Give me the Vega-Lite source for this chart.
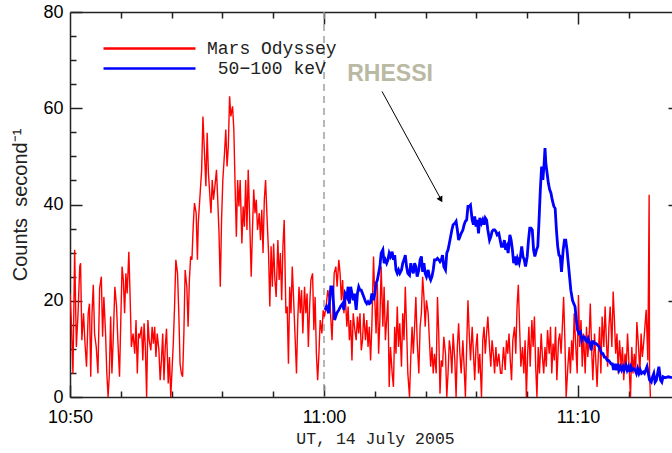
{
  "$schema": "https://vega.github.io/schema/vega-lite/v6.json",
  "width": 602,
  "height": 385,
  "autosize": {"type": "none"},
  "padding": {"left": 70, "top": 12, "right": 0, "bottom": 56},
  "background": "white",
  "config": {
    "view": {"stroke": null},
    "axis": {"labelFont": "Liberation Sans", "labelFontSize": 18, "labelColor": "#000000", "domainColor": "#222222", "domainWidth": 1.5, "tickColor": "#222222", "tickWidth": 1.5, "grid": false},
    "legend": {"orient": "none", "legendX": 69, "legendY": 26, "symbolType": "M-5.11,0H5.11", "symbolSize": 324, "symbolStrokeWidth": 2.5, "symbolFillColor": "transparent", "labelFont": "Liberation Mono", "labelFontSize": 18, "labelColor": "#222222", "labelOffset": 47, "rowPadding": -1, "padding": 0}
  },
  "datasets": {
    "odyssey": [
      {"s":0,"v":21.5},{"s":3,"v":16},{"s":7,"v":4.9},{"s":11,"v":30.6},{"s":15,"v":10.4},{"s":19,"v":17.4},{"s":23,"v":27.1},{"s":25,"v":27.8},{"s":28,"v":11.8},{"s":32,"v":17.4},{"s":35,"v":11.8},{"s":39,"v":6.3},{"s":43,"v":17.4},{"s":46,"v":19.4},{"s":49,"v":4.2},{"s":52,"v":17.4},{"s":55,"v":23.3},{"s":58,"v":13.2},{"s":62,"v":10.4},{"s":66,"v":4.9},{"s":70,"v":22.6},{"s":74,"v":25},{"s":77,"v":12.5},{"s":80,"v":20.8},{"s":84,"v":13.2},{"s":87,"v":4.9},{"s":90,"v":0},{"s":93,"v":4.9},{"s":96,"v":16.7},{"s":99,"v":4.9},{"s":102,"v":11.8},{"s":106,"v":22.9},{"s":110,"v":18.8},{"s":113,"v":11.8},{"s":117,"v":4.2},{"s":120,"v":16},{"s":123,"v":27.1},{"s":126,"v":24.3},{"s":129,"v":17.4},{"s":132,"v":25.7},{"s":135,"v":21.5},{"s":139,"v":30.2},{"s":142,"v":20.8},{"s":145,"v":10.4},{"s":149,"v":13.2},{"s":153,"v":9},{"s":156,"v":16},{"s":159,"v":4.9},{"s":162,"v":13.2},{"s":165,"v":12.5},{"s":169,"v":14.6},{"s":172,"v":7.6},{"s":175,"v":15.3},{"s":178,"v":10.4},{"s":181,"v":0},{"s":184,"v":16},{"s":187,"v":11.8},{"s":191,"v":9.7},{"s":194,"v":14.6},{"s":197,"v":11.1},{"s":200,"v":14.6},{"s":203,"v":8.3},{"s":206,"v":13.2},{"s":210,"v":9.7},{"s":213,"v":3.5},{"s":216,"v":7.6},{"s":219,"v":13.2},{"s":222,"v":3.5},{"s":225,"v":10.4},{"s":228,"v":14.2},{"s":232,"v":2.8},{"s":235,"v":8.3},{"s":238,"v":0},{"s":241,"v":5.6},{"s":244,"v":11.1},{"s":247,"v":18.8},{"s":250,"v":28.5},{"s":254,"v":25.7},{"s":257,"v":17.4},{"s":260,"v":6.9},{"s":263,"v":4.9},{"s":266,"v":4.2},{"s":269,"v":13.2},{"s":272,"v":26.4},{"s":276,"v":22.9},{"s":279,"v":14.6},{"s":282,"v":24.3},{"s":285,"v":29.2},{"s":288,"v":28.5},{"s":291,"v":35.4},{"s":294,"v":40.3},{"s":298,"v":38.2},{"s":301,"v":28.5},
      {"s":303,"v":36.1},{"s":307,"v":41.7},{"s":311,"v":47.2},{"s":314,"v":58.3},{"s":317,"v":52.1},{"s":321,"v":43.8},{"s":324,"v":54.9},{"s":327,"v":46.5},{"s":330,"v":42.4},{"s":333,"v":38.2},{"s":336,"v":45.1},{"s":339,"v":41},{"s":343,"v":44.4},{"s":346,"v":47.2},{"s":349,"v":41},{"s":352,"v":34},{"s":355,"v":22.9},{"s":358,"v":36.8},{"s":361,"v":45.1},{"s":365,"v":50.7},{"s":368,"v":55.6},{"s":371,"v":47.9},{"s":374,"v":52.1},{"s":377,"v":62.5},{"s":380,"v":58.3},{"s":384,"v":60.4},{"s":387,"v":55.6},{"s":390,"v":43.8},{"s":393,"v":33.3},{"s":396,"v":45.1},{"s":399,"v":39.6},{"s":402,"v":45.1},{"s":406,"v":31.9},{"s":409,"v":39.6},{"s":412,"v":35.4},{"s":415,"v":45.1},{"s":418,"v":34.7},{"s":421,"v":47.2},{"s":424,"v":38.2},{"s":428,"v":25},{"s":431,"v":34.7},{"s":434,"v":43.1},{"s":437,"v":38.2},{"s":440,"v":41},{"s":443,"v":34.7},{"s":447,"v":38.2},{"s":450,"v":32.6},{"s":453,"v":38.9},{"s":456,"v":29.9},{"s":459,"v":41},{"s":462,"v":45.1},{"s":465,"v":38.2},{"s":469,"v":29.9},{"s":472,"v":18.8},{"s":475,"v":31.3},{"s":478,"v":22.9},{"s":481,"v":31.9},{"s":484,"v":24.3},{"s":487,"v":20.8},{"s":491,"v":32.6},{"s":494,"v":24.3},{"s":497,"v":29.9},{"s":500,"v":20.1},{"s":503,"v":31.3},{"s":506,"v":36.8},{"s":510,"v":17.4},{"s":513,"v":18.8},{"s":516,"v":6.9},{"s":519,"v":22.9},{"s":522,"v":17.4},{"s":525,"v":27.1},{"s":528,"v":20.8},{"s":532,"v":11.8},{"s":535,"v":4.9},{"s":538,"v":16},{"s":541,"v":22.9},{"s":544,"v":17.4},{"s":547,"v":22.2},{"s":550,"v":13.2},{"s":554,"v":22.9},{"s":557,"v":17.4},{"s":560,"v":21.5},{"s":563,"v":10.4},{"s":566,"v":18.8},{"s":569,"v":24.3},{"s":573,"v":25.7},{"s":576,"v":13.9},{"s":579,"v":20.8},{"s":582,"v":9},{"s":585,"v":3.5},{"s":588,"v":9},{"s":591,"v":16},{"s":595,"v":13.2},{"s":598,"v":18},{"s":601,"v":16.7},
      {"s":605,"v":18.8},{"s":609,"v":22.2},{"s":614,"v":19.4},{"s":619,"v":11.8},{"s":624,"v":25.7},{"s":628,"v":27.1},{"s":631,"v":22.9},{"s":635,"v":28.5},{"s":638,"v":25.7},{"s":641,"v":20.1},{"s":644,"v":24.3},{"s":647,"v":17.4},{"s":650,"v":21.5},{"s":654,"v":14.6},{"s":657,"v":18.8},{"s":660,"v":11.8},{"s":663,"v":16},{"s":666,"v":7.6},{"s":669,"v":17.4},{"s":672,"v":14.6},{"s":676,"v":11.8},{"s":679,"v":16.7},{"s":682,"v":13.2},{"s":685,"v":17.4},{"s":688,"v":9.7},{"s":691,"v":11.8},{"s":694,"v":17.4},{"s":698,"v":11.8},{"s":701,"v":16},{"s":704,"v":10.4},{"s":707,"v":14.6},{"s":710,"v":7.6},{"s":713,"v":14.6},{"s":717,"v":29.2},{"s":720,"v":20.1},{"s":723,"v":13.2},{"s":726,"v":23.6},{"s":729,"v":9},{"s":732,"v":16},{"s":735,"v":27.1},{"s":739,"v":14.6},{"s":742,"v":22.9},{"s":745,"v":11.8},{"s":748,"v":16},{"s":751,"v":20.1},{"s":754,"v":2.1},{"s":757,"v":10.4},{"s":761,"v":4.9},{"s":764,"v":2.1},{"s":767,"v":14.6},{"s":770,"v":9},{"s":773,"v":18.8},{"s":776,"v":10.4},{"s":779,"v":15.3},{"s":783,"v":6.3},{"s":786,"v":17.4},{"s":789,"v":11.8},{"s":792,"v":22.9},{"s":795,"v":14.6},{"s":798,"v":4.9},{"s":802,"v":0},{"s":805,"v":8.3},{"s":808,"v":14.6},{"s":811,"v":9},{"s":814,"v":14.6},{"s":817,"v":20.8},{"s":820,"v":11.8},{"s":824,"v":4.9},{"s":827,"v":14.6},{"s":830,"v":17.4},{"s":833,"v":25},{"s":836,"v":20.8},{"s":839,"v":14.6},{"s":842,"v":20.1},{"s":846,"v":17.4},{"s":849,"v":11.8},{"s":852,"v":6.3},{"s":855,"v":10.4},{"s":858,"v":4.9},{"s":861,"v":9},{"s":865,"v":4.9},{"s":868,"v":20.8},{"s":871,"v":13.2},{"s":874,"v":0.7},{"s":877,"v":7.6},{"s":880,"v":6.3},{"s":883,"v":12.5},{"s":887,"v":9},{"s":890,"v":0},{"s":893,"v":4.9},{"s":896,"v":11.8},{"s":899,"v":9.7},{"s":902,"v":4.9},{"s":905,"v":13.2},{"s":909,"v":7.6},{"s":912,"v":0},{"s":915,"v":10.4},{"s":918,"v":15.3},{"s":921,"v":9},{"s":924,"v":4.9},{"s":928,"v":11.8},{"s":931,"v":6.3},{"s":934,"v":0},{"s":937,"v":10.4},{"s":940,"v":20.1},{"s":943,"v":13.2},{"s":946,"v":7.6},{"s":950,"v":14.6},{"s":953,"v":9},{"s":956,"v":3.5},{"s":959,"v":10.4},{"s":962,"v":13.2},{"s":965,"v":4.9},{"s":968,"v":9},{"s":972,"v":0},{"s":975,"v":11.8},{"s":978,"v":14.6},{"s":981,"v":9},{"s":984,"v":13.2},{"s":987,"v":16.7},{"s":991,"v":10.4},{"s":994,"v":6.3},{"s":997,"v":11.8},{"s":1000,"v":9},{"s":1003,"v":4.9},{"s":1006,"v":10.4},{"s":1009,"v":6.3},{"s":1013,"v":9},{"s":1017,"v":4.9},
      {"s":1020,"v":4.9},{"s":1024,"v":10.4},{"s":1028,"v":5.6},{"s":1031,"v":11.8},{"s":1034,"v":9},{"s":1037,"v":13.2},{"s":1040,"v":7.6},{"s":1043,"v":3.5},{"s":1046,"v":11.8},{"s":1050,"v":14.6},{"s":1053,"v":9},{"s":1056,"v":18.8},{"s":1059,"v":23.3},{"s":1062,"v":14.6},{"s":1065,"v":6.3},{"s":1069,"v":10.4},{"s":1072,"v":4.9},{"s":1075,"v":11.8},{"s":1078,"v":0},{"s":1081,"v":9},{"s":1084,"v":14.6},{"s":1087,"v":6.3},{"s":1091,"v":16},{"s":1094,"v":10.4},{"s":1097,"v":16.7},{"s":1100,"v":6.3},{"s":1103,"v":0},{"s":1106,"v":10.4},{"s":1109,"v":4.9},{"s":1113,"v":13.2},{"s":1116,"v":8.3},{"s":1119,"v":4.9},{"s":1122,"v":10.4},{"s":1125,"v":6.3},{"s":1128,"v":13.9},{"s":1132,"v":9},{"s":1135,"v":14.6},{"s":1138,"v":4.9},{"s":1141,"v":11.1},{"s":1144,"v":7.6},{"s":1147,"v":14.6},{"s":1150,"v":3.5},{"s":1154,"v":11.8},{"s":1157,"v":13.2},{"s":1160,"v":9},{"s":1163,"v":14.6},{"s":1166,"v":20.8},{"s":1169,"v":11.8},{"s":1172,"v":0},{"s":1176,"v":6.3},{"s":1179,"v":10.4},{"s":1182,"v":4.9},{"s":1185,"v":11.8},{"s":1188,"v":7.6},{"s":1191,"v":17.4},{"s":1194,"v":11.8},{"s":1198,"v":4.9},{"s":1201,"v":21.2},{"s":1204,"v":10.4},{"s":1207,"v":16},{"s":1210,"v":6.3},{"s":1213,"v":13.2},{"s":1217,"v":4.9},{"s":1220,"v":14.6},{"s":1223,"v":8.3},{"s":1226,"v":11.8},{"s":1229,"v":19.4},{"s":1232,"v":10.4},{"s":1235,"v":3.5},{"s":1239,"v":13.2},{"s":1242,"v":7.6},{"s":1245,"v":2.1},{"s":1248,"v":9},{"s":1251,"v":14.6},{"s":1254,"v":4.9},{"s":1257,"v":16.7},{"s":1261,"v":10.4},{"s":1264,"v":18.8},{"s":1267,"v":11.8},{"s":1270,"v":6.3},{"s":1273,"v":14.6},{"s":1276,"v":18.8},{"s":1280,"v":10.4},{"s":1283,"v":21.9},{"s":1286,"v":16},{"s":1289,"v":9},{"s":1292,"v":13.2},{"s":1295,"v":4.9},{"s":1298,"v":11.8},{"s":1302,"v":6.3},{"s":1305,"v":10.4},{"s":1308,"v":3.5},{"s":1311,"v":9},{"s":1314,"v":6.3},{"s":1317,"v":13.2},{"s":1320,"v":7.6},{"s":1324,"v":0},{"s":1327,"v":10.4},{"s":1330,"v":4.9},{"s":1333,"v":9},{"s":1336,"v":4.9},{"s":1339,"v":15.6},{"s":1343,"v":10.4},{"s":1346,"v":4.9},{"s":1349,"v":13.2},{"s":1352,"v":8.3},{"s":1355,"v":11.1},{"s":1358,"v":14.6},{"s":1361,"v":18.1},{"s":1365,"v":7.6},{"s":1368,"v":42},{"s":1369,"v":4.9},{"s":1371,"v":0}
    ],
    "rhessi": [
      {"s":602,"v":18.1},{"s":606,"v":18.8},{"s":611,"v":17.4},{"s":616,"v":22.9},{"s":620,"v":22.9},{"s":625,"v":16},{"s":630,"v":17.4},{"s":635,"v":18.1},{"s":639,"v":18.8},{"s":644,"v":19.4},{"s":647,"v":18.1},{"s":650,"v":21.5},{"s":654,"v":20.8},{"s":657,"v":22.9},{"s":660,"v":19.4},{"s":663,"v":22.9},{"s":666,"v":21.5},{"s":669,"v":20.1},{"s":672,"v":21.5},{"s":676,"v":18.1},{"s":679,"v":21.5},{"s":682,"v":22.9},{"s":685,"v":22.2},{"s":688,"v":22.2},{"s":691,"v":21.5},{"s":694,"v":20.8},{"s":698,"v":19.8},{"s":701,"v":19.4},{"s":704,"v":19.8},{"s":707,"v":19.4},{"s":710,"v":19.6},{"s":713,"v":21.5},{"s":717,"v":20.1},{"s":720,"v":21.5},{"s":723,"v":23.6},{"s":726,"v":24.3},{"s":729,"v":25.7},{"s":732,"v":27.1},{"s":735,"v":29.9},{"s":739,"v":30.6},{"s":742,"v":27.8},{"s":745,"v":28.5},{"s":748,"v":27.8},{"s":751,"v":28.5},{"s":754,"v":29.9},{"s":757,"v":29.2},{"s":761,"v":30.2},{"s":764,"v":28.5},{"s":767,"v":29.5},{"s":770,"v":26.4},{"s":773,"v":25.7},{"s":776,"v":26.4},{"s":779,"v":25.7},{"s":783,"v":26.4},{"s":786,"v":27.8},{"s":789,"v":28.5},{"s":792,"v":29.5},{"s":795,"v":27.1},{"s":798,"v":25.7},{"s":802,"v":25.3},{"s":805,"v":27.8},{"s":808,"v":26.4},{"s":811,"v":25.7},{"s":814,"v":27.8},{"s":817,"v":27.1},{"s":820,"v":25},{"s":824,"v":26.4},{"s":827,"v":28.5},{"s":830,"v":29.2},{"s":833,"v":26},{"s":836,"v":27.8},{"s":839,"v":25.7},{"s":842,"v":25},{"s":846,"v":26.4},{"s":849,"v":25},{"s":852,"v":24.3},{"s":855,"v":25},{"s":858,"v":26.4},{"s":861,"v":28.5},{"s":865,"v":28.5},{"s":868,"v":28.8},{"s":871,"v":28.5},{"s":874,"v":28.1},{"s":877,"v":28.5},{"s":880,"v":29.5},{"s":883,"v":27.1},{"s":887,"v":26.4},{"s":890,"v":29.9},{"s":893,"v":30.6},{"s":896,"v":31.9},{"s":899,"v":33.3},{"s":902,"v":34.7},{"s":905,"v":35.8},{"s":909,"v":36.1},{"s":912,"v":36.5},{"s":915,"v":34.7},{"s":918,"v":32.6},{"s":921,"v":33.3},{"s":924,"v":34},{"s":928,"v":34.7},{"s":931,"v":35.8},{"s":934,"v":36.5},{"s":937,"v":36.8},{"s":940,"v":39.6},{"s":943,"v":39.6},{"s":946,"v":39.9},{"s":950,"v":36.8},{"s":953,"v":35.8},{"s":956,"v":37.5},{"s":959,"v":35.4},{"s":962,"v":36.8},{"s":965,"v":34},{"s":968,"v":37.2},{"s":972,"v":36.1},{"s":975,"v":36.8},{"s":978,"v":35.8},{"s":981,"v":37.2},{"s":984,"v":36.8},{"s":987,"v":34.7},{"s":991,"v":32.6},{"s":994,"v":33.3},{"s":997,"v":34.4},{"s":1000,"v":34.7},{"s":1003,"v":34.7},{"s":1006,"v":34.4},{"s":1009,"v":33.7},{"s":1013,"v":34},{"s":1016,"v":32.6},{"s":1019,"v":31.3},
      {"s":1023,"v":31.3},{"s":1026,"v":32.6},{"s":1029,"v":30.6},{"s":1032,"v":31.3},{"s":1035,"v":29.9},{"s":1039,"v":33.7},{"s":1042,"v":32.6},{"s":1045,"v":30.6},{"s":1048,"v":27.8},{"s":1051,"v":29.2},{"s":1054,"v":27.4},{"s":1057,"v":28.8},{"s":1061,"v":27.8},{"s":1064,"v":29.2},{"s":1067,"v":31.3},{"s":1070,"v":29.2},{"s":1073,"v":28.5},{"s":1076,"v":27.1},{"s":1080,"v":29.2},{"s":1083,"v":32.6},{"s":1086,"v":35.1},{"s":1089,"v":35.1},{"s":1092,"v":34.7},{"s":1095,"v":30.6},{"s":1098,"v":29.2},{"s":1102,"v":30.6},{"s":1105,"v":31.3},{"s":1108,"v":36.8},{"s":1111,"v":43.1},{"s":1114,"v":47.9},{"s":1117,"v":45.1},{"s":1120,"v":48.6},{"s":1122,"v":51.7},{"s":1124,"v":48.6},{"s":1127,"v":46.5},{"s":1130,"v":44.4},{"s":1133,"v":43.1},{"s":1136,"v":42.4},{"s":1139,"v":41},{"s":1143,"v":39.6},{"s":1146,"v":39.2},{"s":1149,"v":34.7},{"s":1152,"v":31.3},{"s":1155,"v":29.5},{"s":1158,"v":29.2},{"s":1161,"v":26},{"s":1165,"v":30.6},{"s":1168,"v":32.6},{"s":1171,"v":32.6},{"s":1174,"v":30.6},{"s":1177,"v":27.8},{"s":1180,"v":25},{"s":1183,"v":22.2},{"s":1187,"v":20.1},{"s":1190,"v":19.4},{"s":1193,"v":18.8},{"s":1196,"v":16},{"s":1199,"v":13.9},{"s":1202,"v":13.2},{"s":1206,"v":13.5},{"s":1209,"v":11.8},{"s":1212,"v":12.5},{"s":1215,"v":12.5},{"s":1218,"v":11.8},{"s":1221,"v":11.5},{"s":1224,"v":12.2},{"s":1228,"v":11.1},{"s":1231,"v":9.7},{"s":1234,"v":11.5},{"s":1237,"v":11.5},{"s":1240,"v":11.1},{"s":1243,"v":11.1},{"s":1246,"v":10.8},{"s":1250,"v":10.4},{"s":1253,"v":9.7},{"s":1256,"v":9},{"s":1259,"v":9},{"s":1262,"v":8.3},{"s":1265,"v":8.3},{"s":1269,"v":7.6},{"s":1272,"v":7.6},{"s":1275,"v":7.3},{"s":1278,"v":6.9},{"s":1281,"v":6.9},{"s":1284,"v":5.6},{"s":1287,"v":6.9},{"s":1291,"v":5.6},{"s":1294,"v":6.9},{"s":1297,"v":5.6},{"s":1300,"v":6.3},{"s":1303,"v":5.6},{"s":1306,"v":6.3},{"s":1309,"v":5.6},{"s":1313,"v":6.6},{"s":1316,"v":5.6},{"s":1319,"v":6.3},{"s":1322,"v":5.2},{"s":1325,"v":6.3},{"s":1328,"v":5.6},{"s":1332,"v":5.9},{"s":1335,"v":5.6},{"s":1338,"v":4.9},{"s":1341,"v":5.9},{"s":1344,"v":4.9},{"s":1347,"v":5.6},{"s":1350,"v":4.9},{"s":1354,"v":5.2},{"s":1357,"v":4.9},{"s":1360,"v":5.6},{"s":1363,"v":6.3},{"s":1366,"v":4.9},{"s":1369,"v":3.5},{"s":1373,"v":3.1},{"s":1376,"v":4.2},{"s":1379,"v":4.9},{"s":1382,"v":3.1},{"s":1385,"v":3.5},{"s":1388,"v":4.9},{"s":1391,"v":6.3},{"s":1395,"v":3.5},{"s":1398,"v":3.1},{"s":1401,"v":4.2},{"s":1406,"v":4},{"s":1413,"v":4.2},{"s":1422,"v":4}
    ]
  },
  "layer": [
    {
      "data": {"values": [{}]},
      "mark": {"type": "rule", "color": "#a0a0a0", "strokeWidth": 1.5, "strokeDash": [7, 5]},
      "encoding": {
        "x": {"datum": 600, "type": "quantitative",
          "axis": {"orient": "bottom", "values": [120,240,360,480,720,840,960,1080,1320], "labels": false, "domain": false, "tickSize": -6, "title": null}}
      }
    },
    {
      "data": {"name": "odyssey"},
      "mark": {"type": "line", "strokeWidth": 1.4, "clip": true},
      "encoding": {
        "x": {"field": "s", "type": "quantitative", "scale": {"domain": [0, 1422], "nice": false, "zero": false},
          "axis": {"orient": "bottom", "values": [0, 600, 1200],
            "labelExpr": "datum.value == 0 ? '10:50' : datum.value == 600 ? '11:00' : '11:10'",
            "tickSize": -12, "labelPadding": 23, "labelFlush": false,
            "title": "UT, 14 July 2005", "titleFont": "Liberation Mono", "titleFontSize": 16.5, "titleFontWeight": "normal", "titleColor": "#222222", "titlePadding": 4, "titleX": 305}},
        "y": {"field": "v", "type": "quantitative", "scale": {"domain": [0, 80], "nice": false, "zero": true},
          "axis": {"orient": "left", "values": [0, 20, 40, 60, 80],
            "tickSize": -12, "labelPadding": 19,
            "title": "Counts\u00a0\u00a0second\u207b\u00b9", "titleFont": "Liberation Sans", "titleFontSize": 20, "titleFontWeight": "normal", "titleColor": "#222222", "titlePadding": 12}},
        "color": {"datum": "Mars Odyssey", "type": "nominal",
          "scale": {"domain": ["Mars Odyssey", "50\u2212100 keV"], "range": ["#ff0000", "#0000ff"]},
          "legend": {"title": null, "labelExpr": "datum.label == 'Mars Odyssey' ? datum.label : '\u200b\u00a0' + datum.label"}}
      }
    },
    {
      "data": {"name": "rhessi"},
      "mark": {"type": "line", "strokeWidth": 2.8, "clip": true},
      "encoding": {
        "x": {"field": "s", "type": "quantitative",
          "axis": {"orient": "top", "values": [600, 1200], "labels": false, "title": null, "tickSize": -12}},
        "y": {"field": "v", "type": "quantitative",
          "axis": {"orient": "right", "values": [20, 40, 60], "labels": false, "title": null, "domain": false, "tickSize": -4}},
        "color": {"datum": "50\u2212100 keV", "type": "nominal"}
      }
    },
    {
      "data": {"values": [{}]},
      "mark": {"type": "rule", "color": "#000000", "strokeWidth": 1},
      "encoding": {
        "x": {"datum": 737, "type": "quantitative",
          "axis": {"orient": "top", "values": [120,240,360,480,720,840,960,1080,1320], "labels": false, "domain": false, "tickSize": -6, "title": null}},
        "y": {"datum": 63.5, "type": "quantitative",
          "axis": {"orient": "left", "values": [5,10,15,25,30,35,45,50,55,65,70,75], "labels": false, "domain": false, "tickSize": -6, "title": null}},
        "x2": {"datum": 878},
        "y2": {"datum": 40.8}
      }
    },
    {
      "data": {"values": [{}]},
      "mark": {"type": "point", "shape": "triangle-up", "filled": true, "color": "#000000", "size": 45, "angle": 151, "opacity": 1},
      "encoding": {
        "x": {"datum": 876, "type": "quantitative", "axis": null},
        "y": {"datum": 41, "type": "quantitative", "axis": null}
      }
    },
    {
      "data": {"values": [{}]},
      "mark": {"type": "text", "text": "RHESSI", "font": "Liberation Sans", "fontSize": 23, "fontWeight": "bold", "color": "#b9b9a4", "align": "center", "baseline": "middle"},
      "encoding": {
        "x": {"datum": 756, "type": "quantitative", "axis": null},
        "y": {"datum": 67.2, "type": "quantitative", "axis": null}
      }
    }
  ],
  "resolve": {"axis": {"x": "independent", "y": "independent"}}
}
